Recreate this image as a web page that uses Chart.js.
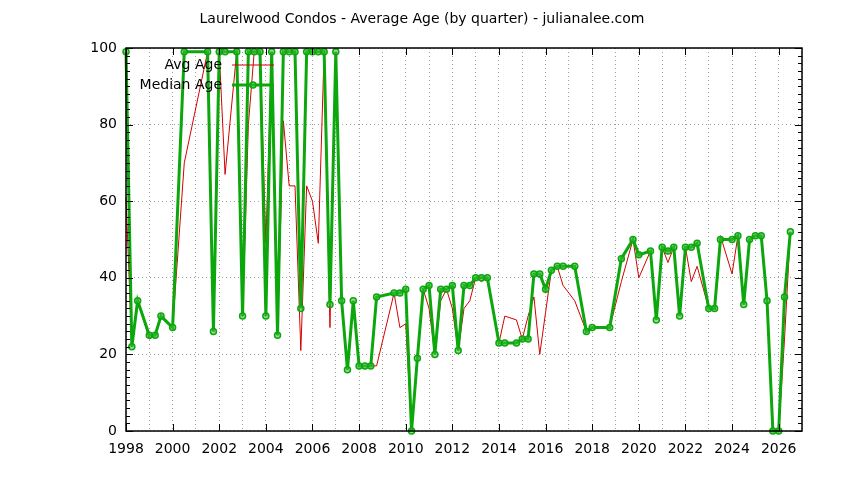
<!DOCTYPE html>
<html>
<head>
<meta charset="utf-8">
<script src="https://cdn.jsdelivr.net/npm/chart.js@4"></script>
<style>
  html, body { margin: 0; padding: 0; background: #fff; }
  #wrap { width: 844px; height: 480px; }
</style>
</head>
<body>
<div id="wrap"><canvas id="myChart" width="844" height="480"></canvas></div>
<script>
// quarter positions (year + fraction)
const quarters = [
  1998.0, 1998.25, 1998.5, 1999.0, 1999.25, 1999.5, 2000.0, 2000.5, 2001.5, 2001.75,
  2002.0, 2002.25, 2002.75, 2003.0, 2003.25, 2003.5, 2003.75, 2004.0, 2004.25, 2004.5,
  2004.75, 2005.0, 2005.25, 2005.5, 2005.75, 2006.0, 2006.25, 2006.5, 2006.75, 2007.0,
  2007.25, 2007.5, 2007.75, 2008.0, 2008.25, 2008.5, 2008.75, 2009.5, 2009.75, 2010.0,
  2010.25, 2010.5, 2010.75, 2011.0, 2011.25, 2011.5, 2011.75, 2012.0, 2012.25, 2012.5,
  2012.75, 2013.0, 2013.25, 2013.5, 2014.0, 2014.25, 2014.75, 2015.0, 2015.25, 2015.5,
  2015.75, 2016.0, 2016.25, 2016.5, 2016.75, 2017.25, 2017.75, 2018.0, 2018.75, 2019.25,
  2019.75, 2020.0, 2020.5, 2020.75, 2021.0, 2021.25, 2021.5, 2021.75, 2022.0, 2022.25,
  2022.5, 2023.0, 2023.25, 2023.5, 2024.0, 2024.25, 2024.5, 2024.75, 2025.0, 2025.25,
  2025.5, 2025.75, 2026.0, 2026.25, 2026.5
];

const avgAge = [
  61, 22, 34, 24, 25, 30, 27, 70, 99, 26,
  99, 67, 99, 30, 80, 99, 99, 49, 99, 25,
  81, 64, 64, 21, 64, 60, 49, 99, 27, 99,
  34, 16, 34, 17, 17, 17, 17, 36, 27, 28,
  0, 19, 37, 32, 20, 34, 37, 32, 21, 32,
  34, 40, 39, 40, 23, 30, 29, 24, 30, 35,
  20, 31, 42, 43, 38, 34, 26, 27, 27, 39,
  50, 40, 47, 29, 48, 44, 48, 30, 48, 39,
  43, 32, 32, 51, 41, 51, 33, 50, 51, 51,
  34, 0, 0, 24, 52
];

const medianAge = [
  99, 22, 34, 25, 25, 30, 27, 99, 99, 26,
  99, 99, 99, 30, 99, 99, 99, 30, 99, 25,
  99, 99, 99, 32, 99, 99, 99, 99, 33, 99,
  34, 16, 34, 17, 17, 17, 35, 36, 36, 37,
  0, 19, 37, 38, 20, 37, 37, 38, 21, 38,
  38, 40, 40, 40, 23, 23, 23, 24, 24, 41,
  41, 37, 42, 43, 43, 43, 26, 27, 27, 45,
  50, 46, 47, 29, 48, 47, 48, 30, 48, 48,
  49, 32, 32, 50, 50, 51, 33, 50, 51, 51,
  34, 0, 0, 35, 52
];

const yearMin = 1998;
const yearMax = 2027;
const chartTitle = "Laurelwood Condos - Average Age (by quarter) - julianalee.com";
const FONT = "DejaVu Sans";

// frame, inward tick marks, title and gnuplot-style legend
const gnuplotDecor = {
  id: "gnuplotDecor",
  afterDraw(chart) {
    const { ctx, chartArea: a, scales } = chart;
    ctx.save();
    ctx.strokeStyle = "#000";
    ctx.lineWidth = 1.5;
    ctx.strokeRect(a.left, a.top, a.right - a.left, a.bottom - a.top);

    ctx.lineWidth = 1;
    ctx.beginPath();
    for (let yr = yearMin; yr <= yearMax; yr += 2) {
      const px = Math.round(scales.x.getPixelForValue(yr)) + 0.5;
      ctx.moveTo(px, a.bottom); ctx.lineTo(px, a.bottom - 7);
      ctx.moveTo(px, a.top); ctx.lineTo(px, a.top + 7);
    }
    for (let v = 0; v <= 100; v += 2) {
      const py = Math.round(scales.y.getPixelForValue(v)) + 0.5;
      const len = v % 20 === 0 ? 7 : 4;
      ctx.moveTo(a.left, py); ctx.lineTo(a.left + len, py);
      ctx.moveTo(a.right, py); ctx.lineTo(a.right - len, py);
    }
    ctx.stroke();

    // title
    ctx.fillStyle = "#000";
    ctx.font = "14px '" + FONT + "'";
    ctx.textAlign = "center";
    ctx.textBaseline = "middle";
    ctx.fillText(chartTitle, 422, 19);

    // legend
    ctx.textAlign = "right";
    chart.data.datasets.forEach((ds, i) => {
      const ly = 65 + i * 20;
      ctx.fillStyle = "#000";
      ctx.fillText(ds.label, 222, ly);
      ctx.strokeStyle = ds.borderColor;
      ctx.lineWidth = ds.borderWidth;
      ctx.beginPath();
      ctx.moveTo(232, ly); ctx.lineTo(274, ly);
      ctx.stroke();
      if (ds.pointRadius > 0) {
        ctx.beginPath();
        ctx.arc(253, ly, ds.pointRadius, 0, Math.PI * 2);
        ctx.fillStyle = ds.pointBackgroundColor;
        ctx.fill();
        ctx.lineWidth = ds.pointBorderWidth;
        ctx.strokeStyle = ds.pointBorderColor;
        ctx.stroke();
      }
    });
    ctx.restore();
  },
};

const ctx = document.getElementById("myChart").getContext("2d");

new Chart(ctx, {
  type: "line",
  data: {
    datasets: [
      {
        label: "Avg Age",
        data: quarters.map((q, i) => ({ x: q, y: avgAge[i] })),
        borderColor: "#d40000",
        borderWidth: 1,
        pointRadius: 0,
        tension: 0,
        order: 1,
      },
      {
        label: "Median Age",
        data: quarters.map((q, i) => ({ x: q, y: medianAge[i] })),
        borderColor: "#0ca70c",
        borderWidth: 3,
        pointRadius: 3,
        pointBorderWidth: 1.5,
        pointBorderColor: "#0ca70c",
        pointBackgroundColor: "rgba(60,190,60,0.55)",
        tension: 0,
        order: 0,
      },
    ],
  },
  options: {
    responsive: false,
    animation: false,
    clip: false,
    layout: { padding: { left: 0, right: 42, top: 48, bottom: 0 } },
    plugins: {
      legend: { display: false },
      title: { display: false },
      tooltip: { enabled: false },
    },
    scales: {
      x: {
        type: "linear",
        min: yearMin,
        max: yearMax,
        afterFit: (scale) => { scale.height = 49; },
        afterBuildTicks: (scale) => {
          const t = [];
          for (let yr = yearMin; yr <= yearMax; yr++) t.push({ value: yr });
          scale.ticks = t;
        },
        ticks: {
          autoSkip: false,
          maxRotation: 0,
          padding: 10,
          color: "#000",
          font: { family: FONT, size: 14 },
          callback: (v) => (v % 2 === 0 ? String(v) : ""),
        },
        grid: {
          color: "#a0a0a0",
          lineWidth: 1,
          drawTicks: false,
        },
        border: { display: false, dash: [1, 3] },
      },
      y: {
        min: 0,
        max: 100,
        afterFit: (scale) => { scale.width = 126; },
        ticks: {
          stepSize: 20,
          padding: 9,
          color: "#000",
          font: { family: FONT, size: 14 },
        },
        grid: {
          color: "#a0a0a0",
          lineWidth: 1,
          drawTicks: false,
        },
        border: { display: false, dash: [1, 3] },
      },
    },
  },
  plugins: [gnuplotDecor],
});
</script>
</body>
</html>
